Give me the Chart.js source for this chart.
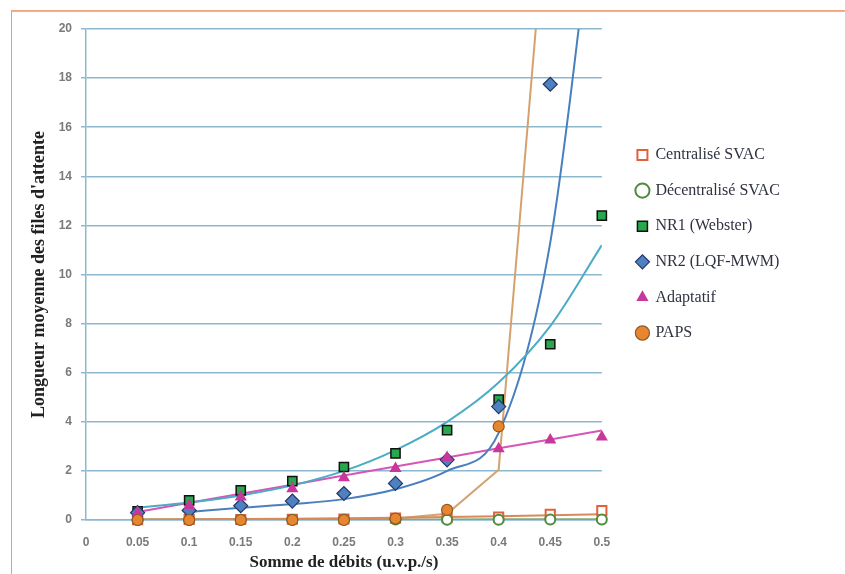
<!DOCTYPE html>
<html lang="fr">
<head>
<meta charset="UTF-8" />
<title>Longueur moyenne des files d'attente</title>
<script src="https://cdn.jsdelivr.net/npm/chart.js"></script>
<style>
  body { margin: 0; background: #fff; }
  .wrap { position: relative; width: 845px; height: 574px; }
  .frame {
    position: absolute; left: 11px; top: 10px; right: 0; bottom: 0;
    border-top: 1px solid #f2a47e; border-left: 1px solid #8dbad0;
    box-shadow: inset 0 1px 0 #a7c8d9;
  }
  canvas { position: absolute; left: 0; top: 0; }
</style>
</head>
<body>
<div class="wrap">
  <div class="frame"></div>
  <canvas id="queueChart" width="845" height="574"></canvas>
</div>

<script>
  // x values (somme de débits, u.v.p./s)
  const flows = [0.05, 0.1, 0.15, 0.2, 0.25, 0.3, 0.35, 0.4, 0.45, 0.5];

  // measured points
  const centralise = [0.01, 0.02, 0.02, 0.03, 0.04, 0.08, 0.1, 0.12, 0.23, 0.38];
  const decentralise = [0, 0, 0.01, 0.01, 0.01, 0.02, 0.01, 0.01, 0.02, 0.02];
  const nr1 = [0.35, 0.8, 1.21, 1.58, 2.16, 2.71, 3.66, 4.9, 7.16, 12.4];
  const nr2 = [0.3, 0.39, 0.58, 0.77, 1.08, 1.49, 2.45, 4.62, 17.75, null];
  const adaptatif = [0.29, 0.59, 0.94, 1.27, 1.72, 2.1, 2.55, 2.9, 3.26, 3.38];
  const paps = [0, 0, 0, 0, 0, 0.06, 0.41, 3.81, null, null];

  // trend curves
  const centraliseTrend = [0.02, 0.03, 0.04, 0.05, 0.07, 0.09, 0.12, 0.15, 0.19, 0.23];
  const decentraliseTrend = [0.02, 0.02, 0.02, 0.02, 0.02, 0.02, 0.02, 0.03, 0.03, 0.03];
  const nr1Trend = [0.5, 0.71, 1.0, 1.41, 2.0, 2.85, 4.0, 5.6, 7.9, 11.2];
  const nr2Trend = [null, 0.33, 0.5, 0.65, 0.85, 1.25, 2.0, 3.55, 11.3, 28];
  const adaptatifTrend = [0.33, 0.7, 1.07, 1.44, 1.81, 2.18, 2.55, 2.92, 3.28, 3.65];
  const papsTrend = [0.01, 0.01, 0.02, 0.02, 0.03, 0.06, 0.25, 2.05, 27, null];

  const yTicks = { min: 0, max: 20, step: 2 };
  const xTicks = { min: 0, max: 0.5, step: 0.05 };

  function pts(values) {
    return flows.map((x, i) => ({ x: x, y: values[i] }));
  }

  function marks(label, values, style, order) {
    return Object.assign({
      label: label,
      data: pts(values),
      showLine: false,
      clip: false,
      order: order
    }, style);
  }

  function trend(values, color, width, smooth) {
    return {
      label: "",
      data: pts(values),
      showLine: true,
      borderColor: color,
      borderWidth: width,
      pointRadius: 0,
      pointHoverRadius: 0,
      tension: 0,
      cubicInterpolationMode: smooth ? "monotone" : "default",
      order: 10
    };
  }

  const gridBlue = "#8cb8cf";

  // push the legend a little to the right of the plot, like the original
  const legendNudge = {
    id: "legendNudge",
    afterLayout(chart) {
      chart.legend.left += 16;
      chart.legend.right += 16;
    }
  };

  new Chart(document.getElementById("queueChart"), {
    type: "scatter",
    data: {
      datasets: [
        marks("Centralisé SVAC", centralise, {
          pointStyle: "rect", pointRadius: 6.5, borderWidth: 2,
          backgroundColor: "#ffffff", borderColor: "#e2603c"
        }, 6),
        marks("Décentralisé SVAC", decentralise, {
          pointStyle: "circle", pointRadius: 5, borderWidth: 2,
          backgroundColor: "#ffffff", borderColor: "#4e8c3c"
        }, 5),
        marks("NR1 (Webster)", nr1, {
          pointStyle: "rect", pointRadius: 6.5, borderWidth: 1.5,
          backgroundColor: "#27a84c", borderColor: "#111111"
        }, 4),
        marks("NR2 (LQF-MWM)", nr2, {
          pointStyle: "rectRot", pointRadius: 7, borderWidth: 1.2,
          backgroundColor: "#4f80c0", borderColor: "#1f3864"
        }, 3),
        marks("Adaptatif", adaptatif, {
          pointStyle: "triangle", pointRadius: 7, borderWidth: 0,
          backgroundColor: "#c8379c", borderColor: "#c8379c"
        }, 2),
        marks("PAPS", paps, {
          pointStyle: "circle", pointRadius: 5.5, borderWidth: 1.2,
          backgroundColor: "#e8862f", borderColor: "#8c5a24"
        }, 1),
        trend(centraliseTrend, "#d98a5a", 2, false),
        trend(decentraliseTrend, "#86a874", 2, false),
        trend(nr1Trend, "#4bacc6", 2, true),
        trend(nr2Trend, "#4a7fbd", 2, true),
        trend(adaptatifTrend, "#d655b6", 2, false),
        trend(papsTrend, "#d4a26e", 2, false)
      ]
    },
    options: {
      responsive: false,
      animation: false,
      layout: { padding: { top: 29, left: 20, right: 71, bottom: 0 } },
      plugins: {
        tooltip: { enabled: false },
        legend: {
          position: "right",
          align: "start",
          title: { display: true, text: "", padding: { top: 84, bottom: 0 }, font: { size: 12 } },
          labels: {
            usePointStyle: true,
            boxWidth: 10,
            boxHeight: 10,
            padding: 19.6,
            color: "#2f3340",
            font: { family: "'Liberation Serif', serif", size: 16 },
            filter: (item) => item.datasetIndex < 6,
            sort: (a, b) => a.datasetIndex - b.datasetIndex
          }
        }
      },
      scales: {
        x: {
          type: "linear",
          min: xTicks.min,
          max: xTicks.max,
          afterFit: (s) => { s.height = 54; },
          grid: { display: false, drawTicks: false },
          border: { display: true, color: gridBlue, width: 1.5 },
          ticks: {
            stepSize: xTicks.step,
            padding: 15,
            color: "#7a7a7a",
            font: { family: "'Liberation Sans', sans-serif", size: 12, weight: "bold" },
            callback: (v) => String(+v.toFixed(2))
          },
          title: {
            display: true,
            text: "Somme de débits (u.v.p./s)",
            color: "#222222",
            padding: { top: 0, bottom: 1 },
            font: { family: "'Liberation Serif', serif", size: 17, weight: "bold" }
          }
        },
        y: {
          min: yTicks.min,
          max: yTicks.max,
          afterFit: (s) => { s.width = 66; },
          grid: { color: gridBlue, lineWidth: 1.5, tickLength: 5 },
          border: { display: true, color: gridBlue, width: 1.5 },
          ticks: {
            stepSize: yTicks.step,
            padding: 9,
            color: "#7a7a7a",
            font: { family: "'Liberation Sans', sans-serif", size: 12, weight: "bold" }
          },
          title: {
            display: true,
            text: "Longueur moyenne des files d'attente",
            color: "#222222",
            padding: { top: 9, bottom: 0 },
            font: { family: "'Liberation Serif', serif", size: 18, weight: "bold" }
          }
        }
      }
    },
    plugins: [legendNudge]
  });
</script>
</body>
</html>
